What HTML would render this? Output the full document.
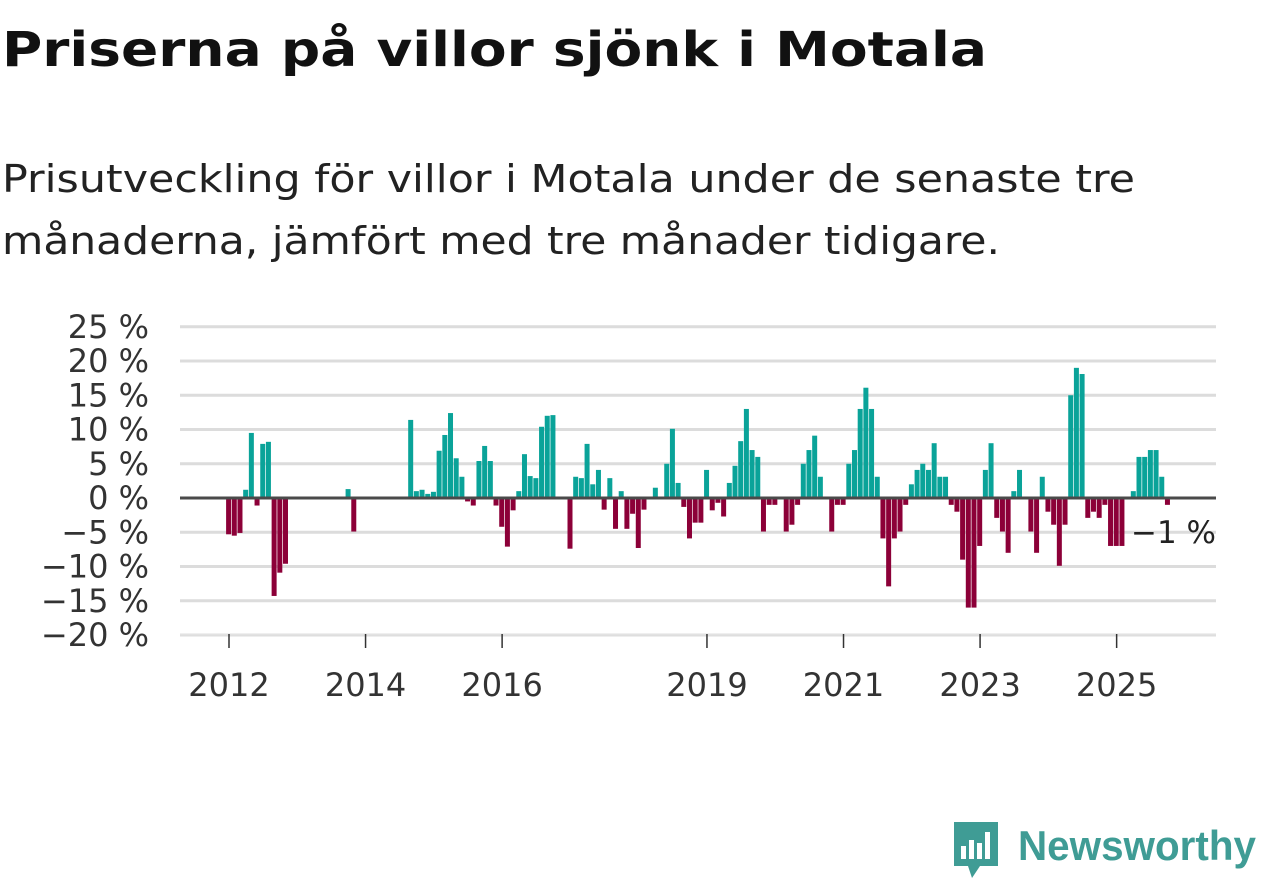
<!DOCTYPE html>
<html><head><meta charset="utf-8"><style>
html,body{margin:0;padding:0;background:#fff;}
svg{display:block;font-family:"DejaVu Sans","Liberation Sans",sans-serif;}
</style></head><body>
<svg id="chart" width="1262" height="879" viewBox="0 0 1262 879">
<text x="2" y="66" font-size="48" font-weight="bold" fill="#111" textLength="985" lengthAdjust="spacingAndGlyphs">Priserna på villor sjönk i Motala</text>
<text x="2" y="192" font-size="38" fill="#222" textLength="1133" lengthAdjust="spacingAndGlyphs">Prisutveckling för villor i Motala under de senaste tre</text>
<text x="2" y="254" font-size="38" fill="#222" textLength="998" lengthAdjust="spacingAndGlyphs">månaderna, jämfört med tre månader tidigare.</text>
<g id="grid"></g><g id="bars"></g><g id="axes"></g>
<text x="1131" y="543" font-size="31" fill="#222">−1 %</text>
<g>
<path d="M954 822 h44 v44 h-18 l-8 12 l-4 -12 h-14 z" fill="#3f9c95"/>
<rect x="961" y="846" width="5" height="13" fill="#fff"/><rect x="969" y="840" width="5" height="19" fill="#fff"/><rect x="977" y="843" width="5" height="16" fill="#fff"/><rect x="985" y="832" width="5" height="27" fill="#fff"/>
<text x="1018" y="860" font-size="42" font-weight="bold" fill="#3f9c95" textLength="238" lengthAdjust="spacingAndGlyphs" font-family="Liberation Sans, sans-serif">Newsworthy</text>
</g>
</svg>
<script>
const startYear = 2012;
const values = [
-5.3,-5.5,-5.1,1.2,9.5,-1.1,7.9,8.2,-14.3,-10.9,-9.6,null,
null,null,null,null,null,null,null,null,null,1.3,-4.9,null,
null,null,null,null,null,null,null,null,11.4,1.0,1.2,0.6,
0.9,6.9,9.2,12.4,5.8,3.1,-0.5,-1.1,5.4,7.6,5.4,-1.1,
-4.2,-7.1,-1.8,1.0,6.4,3.2,2.9,10.4,12.0,12.1,null,null,
-7.4,3.1,2.9,7.9,2.0,4.1,-1.7,2.9,-4.5,1.0,-4.5,-2.3,
-7.3,-1.7,null,1.5,null,5.0,10.1,2.2,-1.3,-5.9,-3.6,-3.6,
4.1,-1.8,-0.7,-2.7,2.2,4.7,8.3,13.0,7.0,6.0,-4.9,-1.0,
-1.0,null,-4.9,-3.9,-1.0,5.0,7.0,9.1,3.1,null,-4.9,-1.0,
-1.0,5.0,7.0,13.0,16.1,13.0,3.1,-5.9,-12.9,-5.9,-4.9,-1.0,
2.0,4.1,5.0,4.1,8.0,3.1,3.1,-1.0,-2.0,-9.0,-16.0,-16.0,
-7.0,4.1,8.0,-2.9,-4.9,-8.0,1.0,4.1,null,-4.9,-8.0,3.1,
-2.0,-3.9,-9.9,-3.9,15.0,19.0,18.1,-2.9,-2.0,-2.9,-1.0,-7.0,
-7.0,-7.0,null,1.0,6.0,6.0,7.0,7.0,3.1,-1.0
];
const yTicks = [25,20,15,10,5,0,-5,-10,-15,-20];
const yTickLabels = ["25 %","20 %","15 %","10 %","5 %","0 %","−5 %","−10 %","−15 %","−20 %"];
const xYears = [2012,2014,2016,2019,2021,2023,2025];

const NS="http://www.w3.org/2000/svg";
const monthW = 68.28/12;
const x = m => 229 + m*monthW;
const xYear = yr => x((yr-startYear)*12);
const y = v => 498 - v*6.85;
function el(tag, attrs, parent){const e=document.createElementNS(NS,tag);for(const k in attrs)e.setAttribute(k,attrs[k]);parent.appendChild(e);return e;}
const grid=document.getElementById('grid'), bars=document.getElementById('bars'), axes=document.getElementById('axes');
yTicks.forEach((t,i)=>{
  if(t!==0){const g=el('line',{x1:180,x2:1216,y1:y(t),y2:y(t),stroke:'#dcdcdc','stroke-width':3},grid);
  
  }
  const l=el('text',{x:149,y:y(t)+11,'font-size':32,fill:'#333','text-anchor':'end'},axes);
  l.textContent=yTickLabels[i];
  
  
});
const base=el('line',{x1:180,x2:1216,y1:634.5,y2:634.5,stroke:'#e2e2e2','stroke-width':1.5},axes);


values.forEach((v,m)=>{
  if(v===null)return;
  const r=el('rect',{x:x(m)-2.9,width:5,y:Math.min(y(v),y(0)),height:Math.abs(y(v)-y(0)),fill:v>=0?'#0aa399':'#8c0038'},bars);
  
  
});
const zero=el('line',{x1:180,x2:1216,y1:y(0),y2:y(0),stroke:'#4a4a4a','stroke-width':3},axes);


xYears.forEach(yr=>{
  const t=el('line',{x1:xYear(yr),x2:xYear(yr),y1:634,y2:648,stroke:'#333','stroke-width':1.5},axes);
  
  
  const l=el('text',{x:xYear(yr),y:696,'font-size':32,fill:'#333','text-anchor':'middle'},axes);
  l.textContent=yr;
  
  
});
</script>
</body></html>
